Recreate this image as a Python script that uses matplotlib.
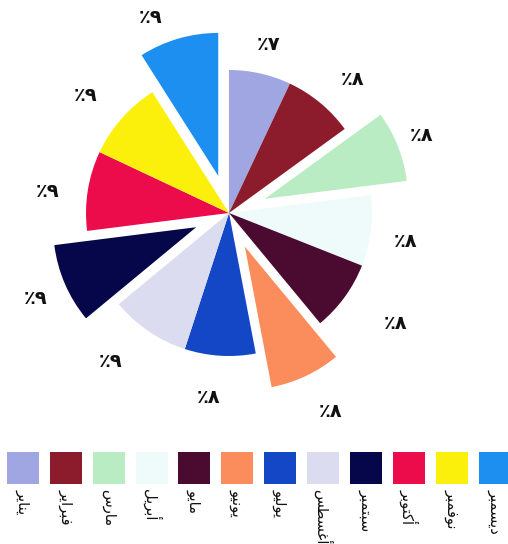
import matplotlib
matplotlib.use("Agg")
import matplotlib.pyplot as plt

months = ["يناير", "فبراير", "مارس", "أبريل", "مايو", "يونيو",
          "يوليو", "أغسطس", "سبتمبر", "أكتوبر", "نوفمبر", "ديسمبر"]
shares = [7, 8, 8, 8, 8, 8, 8, 9, 9, 9, 9, 9]
pct_labels = ["٪٧", "٪٨", "٪٨", "٪٨", "٪٨", "٪٨", "٪٨", "٪٩", "٪٩", "٪٩", "٪٩", "٪٩"]

colors = ["#a0a6e2", "#8c1c2c", "#b9ecc2", "#effbfa", "#4b0b30", "#fb8c5b",
          "#1347c5", "#dcdcf0", "#06064a", "#ec0c4c", "#fbf00c", "#1c8ff0"]
explode = [0, 0, 0.27, 0, 0, 0.26, 0, 0, 0.25, 0, 0, 0.27]
# small hand nudges (px) so the labels sit where the original has them
label_nudge = [(1, 5), (11, 3), (-8, 2), (1, 6), (23, 6), (10, 4),
               (-9, 8), (-19, 2), (2, 1), (-6, 6), (-10, 0), (-18, 12)]

# arabic presentation forms: isolated, final, initial, medial
FORMS = {
    "ا": (0xFE8D, 0xFE8E, None, None),
    "أ": (0xFE83, 0xFE84, None, None),
    "د": (0xFEA9, 0xFEAA, None, None),
    "ر": (0xFEAD, 0xFEAE, None, None),
    "و": (0xFEED, 0xFEEE, None, None),
    "ب": (0xFE8F, 0xFE90, 0xFE91, 0xFE92),
    "ت": (0xFE95, 0xFE96, 0xFE97, 0xFE98),
    "س": (0xFEB1, 0xFEB2, 0xFEB3, 0xFEB4),
    "ط": (0xFEC1, 0xFEC2, 0xFEC3, 0xFEC4),
    "غ": (0xFECD, 0xFECE, 0xFECF, 0xFED0),
    "ف": (0xFED1, 0xFED2, 0xFED3, 0xFED4),
    "ك": (0xFED9, 0xFEDA, 0xFEDB, 0xFEDC),
    "ل": (0xFEDD, 0xFEDE, 0xFEDF, 0xFEE0),
    "م": (0xFEE1, 0xFEE2, 0xFEE3, 0xFEE4),
    "ن": (0xFEE5, 0xFEE6, 0xFEE7, 0xFEE8),
    "ي": (0xFEF1, 0xFEF2, 0xFEF3, 0xFEF4),
}


def shape(word):
    out = []
    for i, ch in enumerate(word):
        iso, fin, ini, med = FORMS[ch]
        prev_j = i > 0 and FORMS[word[i - 1]][2] is not None
        next_j = i < len(word) - 1 and ini is not None
        if prev_j and next_j:
            c = med
        elif prev_j:
            c = fin
        elif next_j:
            c = ini
        else:
            c = iso
        out.append(chr(c))
    return "".join(reversed(out))


W, H = 508, 544
fig = plt.figure(figsize=(W / 100, H / 100), dpi=100)

# pie: centre (229, 213) px, radius 143 px
cx, cy, r, S = 229, 213, 143, 400
ax = fig.add_axes([(cx - S / 2) / W, (H - cy - S / 2) / H, S / W, S / H])
wedges, texts = ax.pie(shares, colors=colors, explode=explode, labels=pct_labels,
                       startangle=90, counterclock=False, labeldistance=1.24,
                       textprops=dict(fontsize=14, fontweight="bold", color="#111111"))
for t, (dx, dy) in zip(texts, label_nudge):
    x, y = t.get_position()
    t.set_position((x + dx / r, y - dy / r))
    t.set_ha("center")
    t.set_va("center")
L = (S / 2) / r
ax.set_xlim(-L, L)
ax.set_ylim(-L, L)
ax.set_aspect("equal")
ax.axis("off")

# legend strip along the bottom
step = 42.94
x0 = 22.7
lax = fig.add_axes([0, 0, 1, 104 / H])
lax.bar(range(len(months)), [32] * len(months), bottom=12, width=32 / step,
        color=colors)
for i, m in enumerate(months):
    lax.text(i, 49, shape(m), rotation=-90, ha="center", va="top",
             fontsize=10.5, color="#111111")
lax.set_xlim(-x0 / step, -x0 / step + W / step)
lax.set_ylim(104, 0)
lax.axis("off")

fig.savefig("out.png", dpi=100, facecolor="white")
